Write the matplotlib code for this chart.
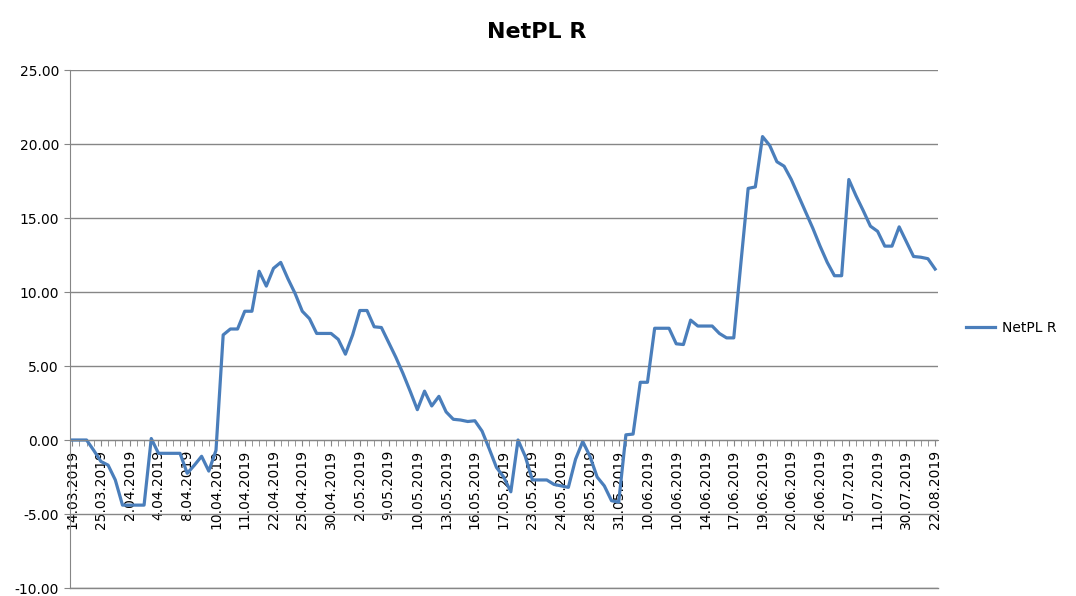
import matplotlib
matplotlib.use("Agg")
import matplotlib.pyplot as plt
from matplotlib.ticker import FixedLocator, MultipleLocator, FormatStrFormatter

# NetPL R values, one per trading day (121 points)
netpl = [
    0.0, 0.0, 0.0, -0.7, -1.45, -1.7, -2.7, -4.4, -4.4, -4.4,
    -4.4, 0.1, -0.9, -0.9, -0.9, -0.9, -2.25, -1.7, -1.1, -2.1,
    -0.7, 7.1, 7.5, 7.5, 8.7, 8.7, 11.4, 10.4, 11.6, 12.0,
    10.9, 9.9, 8.7, 8.2, 7.2, 7.2, 7.2, 6.8, 5.8, 7.1,
    8.75, 8.75, 7.65, 7.6, 6.6, 5.6, 4.5, 3.3, 2.05, 3.3,
    2.3, 2.95, 1.9, 1.4, 1.35, 1.25, 1.3, 0.6, -0.6, -1.85,
    -2.5, -3.5, 0.0, -1.1, -2.7, -2.7, -2.7, -3.0, -3.1, -3.2,
    -1.3, -0.1, -1.1, -2.5, -3.1, -4.1, -4.2, 0.35, 0.4, 3.9,
    3.9, 7.55, 7.55, 7.55, 6.5, 6.45, 8.1, 7.7, 7.7, 7.7,
    7.2, 6.9, 6.9, 12.0, 17.0, 17.1, 20.5, 19.9, 18.8, 18.5,
    17.6, 16.5, 15.4, 14.3, 13.1, 12.0, 11.1, 11.1, 17.6, 16.5,
    15.5, 14.45, 14.1, 13.1, 13.1, 14.4, 13.4, 12.4, 12.35, 12.25,
    11.55,
]

# labels shown on the category axis (every 4th point)
tick_labels = [
    "14.03.2019", "25.03.2019", "2.04.2019", "4.04.2019", "8.04.2019",
    "10.04.2019", "11.04.2019", "22.04.2019", "25.04.2019", "30.04.2019",
    "2.05.2019", "9.05.2019", "10.05.2019", "13.05.2019", "16.05.2019",
    "17.05.2019", "23.05.2019", "24.05.2019", "28.05.2019", "31.05.2019",
    "10.06.2019", "10.06.2019", "14.06.2019", "17.06.2019", "19.06.2019",
    "20.06.2019", "26.06.2019", "5.07.2019", "11.07.2019", "30.07.2019",
    "22.08.2019",
]
label_step = 4

grid_col = "#868686"
line_col = "#4A7EBB"

fig = plt.figure(figsize=(10.76, 5.96), dpi=100)
ax = fig.add_axes([70 / 1076, 1 - 588 / 596, (938 - 70) / 1076, (588 - 70) / 596])

x = list(range(len(netpl)))
ax.plot(x, netpl, color=line_col, lw=2.3, label="NetPL R", solid_joinstyle="round")

ax.set_ylim(-10, 25)
ax.set_xlim(-0.3, len(netpl) - 1 + 0.4)
ax.yaxis.set_major_locator(MultipleLocator(5))
ax.yaxis.set_major_formatter(FormatStrFormatter("%.2f"))
ax.grid(axis="y", color=grid_col, lw=1)
ax.set_axisbelow(True)
# bottom gridline sits on the plot edge
ax.axhline(-10, color=grid_col, lw=1, clip_on=False, zorder=0)

# category axis crosses at zero
ax.spines["bottom"].set_position(("data", 0))
ax.spines["bottom"].set_color(grid_col)
ax.spines["left"].set_color(grid_col)
ax.spines["top"].set_visible(False)
ax.spines["right"].set_visible(False)

major_pos = list(range(0, len(netpl), label_step))
ax.xaxis.set_major_locator(FixedLocator(major_pos))
ax.xaxis.set_minor_locator(FixedLocator(x))
ax.set_xticklabels(tick_labels, rotation=90, ha="center", va="top", fontsize=10)
ax.tick_params(axis="x", which="both", length=4, color=grid_col, direction="out", pad=3)
ax.tick_params(axis="y", length=4, color=grid_col, labelsize=10, pad=4)

fig.text(537 / 1076, 1 - 32 / 596, "NetPL R", ha="center", va="center",
         fontsize=16, fontweight="bold")

fig.legend(loc="center left", bbox_to_anchor=(953 / 1076, 1 - 328 / 596),
           frameon=False, fontsize=10, handlelength=2.1, handletextpad=0.5)

fig.savefig("out.png", dpi=100)
